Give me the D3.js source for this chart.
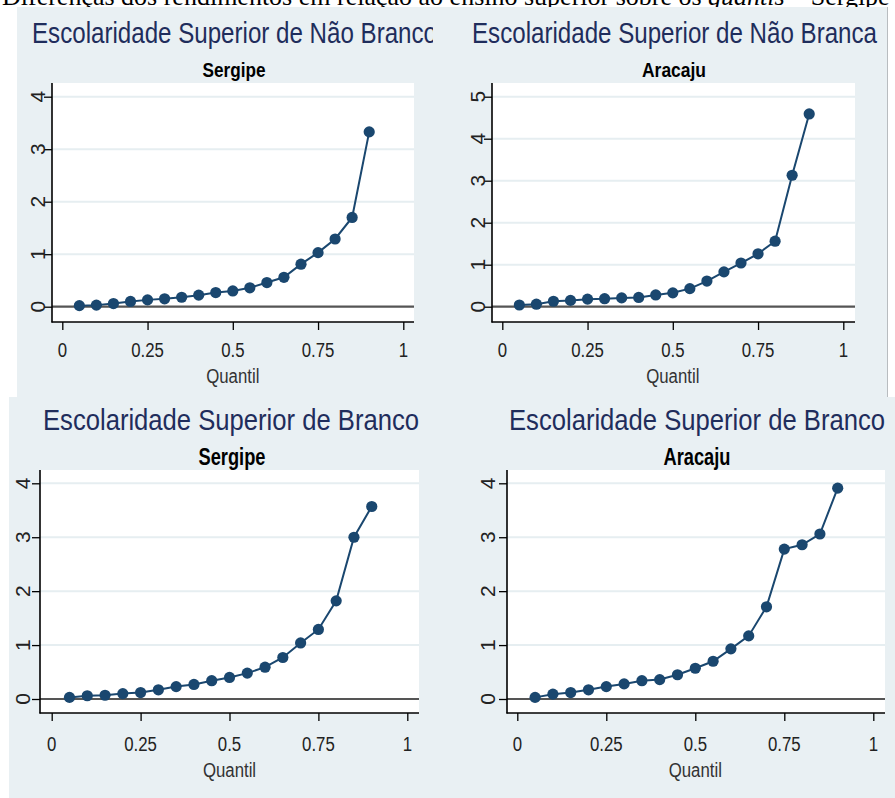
<!DOCTYPE html>
<html>
<head>
<meta charset="utf-8">
<script src="https://cdn.jsdelivr.net/npm/d3@7"></script>
<style>
  html, body { margin: 0; padding: 0; background: #ffffff; }
  svg { display: block; }
</style>
</head>
<body>
<svg id="chart" width="895" height="798"></svg>
<script>
// ---------------- DATA ----------------
const quantiles = [0.05,0.10,0.15,0.20,0.25,0.30,0.35,0.40,0.45,0.50,0.55,0.60,0.65,0.70,0.75,0.80,0.85,0.90];
const naoBrancoSergipe = [0.02,0.03,0.06,0.10,0.13,0.15,0.18,0.22,0.27,0.30,0.36,0.46,0.56,0.81,1.03,1.29,1.70,3.33];
const naoBrancaAracaju = [0.04,0.06,0.13,0.15,0.18,0.19,0.21,0.22,0.28,0.33,0.43,0.61,0.83,1.04,1.26,1.56,3.13,4.59];
const brancoSergipe    = [0.03,0.06,0.07,0.10,0.12,0.17,0.23,0.27,0.34,0.40,0.48,0.59,0.77,1.04,1.29,1.82,3.00,3.57];
const brancoAracaju    = [0.03,0.09,0.12,0.17,0.23,0.28,0.34,0.36,0.45,0.57,0.70,0.93,1.17,1.71,2.78,2.86,3.06,3.91];
const xTicks = [0, 0.25, 0.5, 0.75, 1];
const xTickLabels = ["0", "0.25", "0.5", "0.75", "1"];
const yTicks4 = [0, 1, 2, 3, 4];
const yTicks5 = [0, 1, 2, 3, 4, 5];
const titles = ["Escolaridade Superior de Não Branco", "Escolaridade Superior de Não Branca",
                "Escolaridade Superior de Branco", "Escolaridade Superior de Branco"];
const subtitles = ["Sergipe", "Aracaju", "Sergipe", "Aracaju"];
const xAxisTitle = "Quantil";
const topCaption = ["Diferenças dos rendimentos em relação ao ensino superior sobre os ", "quantis", " – Sergipe"];

// ---------------- STYLE ----------------
const BG = "#e9f0f3";
const GRID = "#e6eef1";
const NAVY = "#1a476f";
const TITLE_COL = "#1f2d5c";
const SANS = "'Liberation Sans', Arial, sans-serif";

const svg = d3.select("#chart");

// top caption (cut off by the top of the page, as in the source)
const cap = svg.append("text")
  .attr("x", 2).attr("y", 5)
  .attr("font-family", "'Liberation Serif', 'Times New Roman', serif")
  .attr("font-size", 26).attr("fill", "#000");
cap.append("tspan").text(topCaption[0]);
cap.append("tspan").attr("font-style", "italic").text(topCaption[1]);
cap.append("tspan").text(topCaption[2]);

// panel backgrounds
svg.append("rect").attr("x", 17).attr("y", 7).attr("width", 870).attr("height", 391).attr("fill", BG);
svg.append("line").attr("x1", 887.5).attr("x2", 887.5).attr("y1", 7).attr("y2", 398)
  .attr("stroke", "#b8bcbf").attr("stroke-width", 1);
svg.append("rect").attr("x", 9).attr("y", 397).attr("width", 886).attr("height", 401).attr("fill", BG);

// ---------------- PANELS ----------------
const panels = [
  { series: naoBrancoSergipe, yTicks: yTicks4, title: titles[0], sub: subtitles[0],
    plot: {x0: 52, x1: 414, y0: 83, y1: 322}, xr: [62.3, 403.3], yr: [306.7, 96.7],
    yLabX: 45, xLabY: 357, qY: 383, titleX: 32, titleY: 43, titleLen: 405, titleSize: 29, clipX: 433,
    subX: 234, subY: 77, subLen: 63, subSize: 21 },
  { series: naoBrancaAracaju, yTicks: yTicks5, title: titles[1], sub: subtitles[1],
    plot: {x0: 492, x1: 855, y0: 83, y1: 322}, xr: [502.3, 843.3], yr: [306.7, 96.7],
    yLabX: 485, xLabY: 357, qY: 383, titleX: 472, titleY: 43, titleLen: 405, titleSize: 29, clipX: 895,
    subX: 674, subY: 77, subLen: 64, subSize: 21 },
  { series: brancoSergipe, yTicks: yTicks4, title: titles[2], sub: subtitles[2],
    plot: {x0: 40, x1: 419, y0: 470, y1: 713}, xr: [51.7, 407.3], yr: [699, 483.3],
    yLabX: 30, xLabY: 751, qY: 777, titleX: 43, titleY: 430, titleLen: 376, titleSize: 30, clipX: 895,
    subX: 232, subY: 465, subLen: 67, subSize: 23 },
  { series: brancoAracaju, yTicks: yTicks4, title: titles[3], sub: subtitles[3],
    plot: {x0: 507, x1: 885, y0: 470, y1: 713}, xr: [517.3, 873.3], yr: [699, 483.3],
    yLabX: 495, xLabY: 751, qY: 777, titleX: 509, titleY: 430, titleLen: 376, titleSize: 30, clipX: 895,
    subX: 697, subY: 465, subLen: 67, subSize: 23 }
];

const defs = svg.append("defs");

panels.forEach((p, i) => {
  const g = svg.append("g");
  const yMax = p.yTicks[p.yTicks.length - 1];
  const x = d3.scaleLinear().domain([0, 1]).range(p.xr);
  const y = d3.scaleLinear().domain([0, yMax]).range(p.yr);

  // title (clipped where the neighbouring panel covers it)
  defs.append("clipPath").attr("id", "clip" + i)
    .append("rect").attr("x", 0).attr("y", 0).attr("width", p.clipX).attr("height", 798);
  g.append("text")
    .attr("clip-path", `url(#clip${i})`)
    .attr("x", p.titleX).attr("y", p.titleY)
    .attr("font-family", SANS).attr("font-size", p.titleSize)
    .attr("fill", TITLE_COL)
    .attr("textLength", p.titleLen).attr("lengthAdjust", "spacingAndGlyphs")
    .text(p.title);

  // subtitle
  g.append("text")
    .attr("x", p.subX - p.subLen / 2).attr("y", p.subY)
    .attr("font-family", SANS).attr("font-size", p.subSize).attr("font-weight", "bold")
    .attr("fill", "#000")
    .attr("textLength", p.subLen).attr("lengthAdjust", "spacingAndGlyphs")
    .text(p.sub);

  // plot region
  g.append("rect").attr("x", p.plot.x0).attr("y", p.plot.y0)
    .attr("width", p.plot.x1 - p.plot.x0).attr("height", p.plot.y1 - p.plot.y0)
    .attr("fill", "#ffffff");

  // gridlines
  g.selectAll(".grid").data(p.yTicks.filter(t => t !== 0)).join("line")
    .attr("x1", p.plot.x0).attr("x2", p.plot.x1)
    .attr("y1", d => y(d)).attr("y2", d => y(d))
    .attr("stroke", GRID).attr("stroke-width", 2);

  // zero reference line
  g.append("line")
    .attr("x1", p.plot.x0).attr("x2", p.plot.x1)
    .attr("y1", y(0)).attr("y2", y(0))
    .attr("stroke", "#555555").attr("stroke-width", 2.2);

  // axes
  const yAxis = d3.axisLeft(y).tickValues(p.yTicks).tickSize(8).tickFormat("");
  const ya = g.append("g").attr("transform", `translate(${p.plot.x0},0)`).call(yAxis);
  ya.select(".domain").remove();
  ya.selectAll(".tick line").attr("stroke", "#000").attr("stroke-width", 1.3);
  g.append("line").attr("x1", p.plot.x0).attr("x2", p.plot.x0)
    .attr("y1", p.plot.y0).attr("y2", p.plot.y1 + 0.5)
    .attr("stroke", "#000").attr("stroke-width", 1.6);

  const xAxis = d3.axisBottom(x).tickValues(xTicks).tickSize(8).tickFormat("");
  const xa = g.append("g").attr("transform", `translate(0,${p.plot.y1})`).call(xAxis);
  xa.select(".domain").remove();
  xa.selectAll(".tick line").attr("stroke", "#000").attr("stroke-width", 1.3);
  g.append("line").attr("x1", p.plot.x0 - 0.5).attr("x2", p.plot.x1)
    .attr("y1", p.plot.y1).attr("y2", p.plot.y1)
    .attr("stroke", "#000").attr("stroke-width", 1.6);

  // y tick labels (rotated)
  g.selectAll(".ylab").data(p.yTicks).join("text")
    .attr("transform", d => `translate(${p.yLabX},${y(d)}) rotate(-90)`)
    .attr("text-anchor", "middle")
    .attr("font-family", SANS).attr("font-size", 21).attr("fill", "#222")
    .text(d => d);

  // x tick labels (condensed)
  g.selectAll(".xlab").data(xTicks).join("text")
    .attr("transform", d => `translate(${x(d)},${p.xLabY}) scale(0.8,1)`)
    .attr("text-anchor", "middle")
    .attr("font-family", SANS).attr("font-size", 21).attr("fill", "#222")
    .text((d, k) => xTickLabels[k]);

  // axis title
  g.append("text")
    .attr("transform", `translate(${x(0.5)},${p.qY}) scale(0.8,1)`)
    .attr("text-anchor", "middle")
    .attr("font-family", SANS).attr("font-size", 21).attr("fill", "#333")
    .text(xAxisTitle);

  // line + markers
  const pts = quantiles.map((q, k) => [q, p.series[k]]);
  g.append("path").datum(pts)
    .attr("d", d3.line().x(d => x(d[0])).y(d => y(d[1])))
    .attr("fill", "none").attr("stroke", NAVY).attr("stroke-width", 2);
  g.selectAll(".pt").data(pts).join("circle")
    .attr("cx", d => x(d[0])).attr("cy", d => y(d[1]))
    .attr("r", 5.6).attr("fill", NAVY);
});
</script>
</body>
</html>
